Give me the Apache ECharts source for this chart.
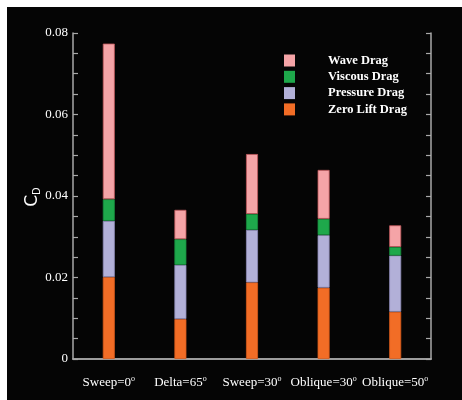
<!DOCTYPE html>
<html>
<head>
<meta charset="utf-8">
<script src="https://cdn.jsdelivr.net/npm/echarts@6/dist/echarts.min.js"></script>
<style>
html,body{margin:0;padding:0;background:#fff;}
#panel{position:absolute;left:7px;top:7px;width:455px;height:393px;background:#050505;}
#chart{position:absolute;left:0;top:0;width:462px;height:400px;}
</style>
</head>
<body>
<div id="panel"></div>
<div id="chart"></div>
<script>
const categories = ['Sweep=0', 'Delta=65', 'Sweep=30', 'Oblique=30', 'Oblique=50'];
const zeroLiftDrag = [0.0201, 0.0098, 0.0188, 0.0175, 0.0116];
const pressureDrag = [0.0138, 0.0133, 0.0129, 0.0129, 0.0138];
const viscousDrag  = [0.0053, 0.0063, 0.0039, 0.0040, 0.0021];
const waveDrag     = [0.0382, 0.0072, 0.0147, 0.0120, 0.0053];
const yTicks = [0, 0.02, 0.04, 0.06, 0.08];
const yAxisTitle = ['C', 'D'];

const serif = '"Liberation Serif", "DejaVu Serif", serif';
const axisColor = '#a8a8a8';

const chart = echarts.init(document.getElementById('chart'), null, {renderer: 'canvas'});

function mk(name, data, color, border) {
  return {
    name: name, type: 'bar', stack: 'cd', data: data, barWidth: 12,
    itemStyle: {color: color, borderColor: border, borderWidth: 0.8},
    emphasis: {disabled: true}
  };
}

chart.setOption({
  backgroundColor: 'transparent',
  animation: false,
  grid: {left: 73, right: 31, top: 33, bottom: 41, containLabel: false},
  graphic: [{
    type: 'group', x: 33, y: 197, rotation: Math.PI / 2, silent: true,
    children: [{
      type: 'text', x: 0, y: 0,
      style: {
        text: '{c|' + yAxisTitle[0] + '}{d|' + yAxisTitle[1] + '}',
        align: 'center', verticalAlign: 'middle',
        rich: {
          c: {fill: '#ffffff', fontFamily: '"DejaVu Sans", sans-serif', fontSize: 17},
          d: {fill: '#ffffff', fontFamily: '"DejaVu Sans", sans-serif', fontSize: 10, verticalAlign: 'bottom', padding: [8, 0, 0, 0]}
        }
      }
    }]
  }],
  legend: {
    data: ['Wave Drag', 'Viscous Drag', 'Pressure Drag', 'Zero Lift Drag'],
    orient: 'vertical', left: 284, top: 54, padding: 0,
    itemWidth: 11, itemHeight: 12, itemGap: 3.3,
    icon: 'rect',
    itemStyle: {borderWidth: 0},
    textStyle: {color: '#ffffff', fontFamily: serif, fontWeight: 'bold', fontSize: 12.5, lineHeight: 12, padding: [0, 0, 0, 28]},
    selectedMode: false
  },
  xAxis: [{
    type: 'category', data: categories, position: 'bottom',
    axisLine: {lineStyle: {color: axisColor, width: 1.5}},
    axisTick: {show: false},
    axisLabel: {
      interval: 0,
      color: '#ffffff', fontFamily: serif, fontSize: 13, margin: 16,
      formatter: function (v) { return v + '{sup|o}'; },
      rich: {sup: {fontSize: 8, verticalAlign: 'top', padding: [0, 0, 8, 0], color: '#ffffff', fontFamily: serif}}
    }
  }, {
    type: 'category', data: categories, position: 'top',
    axisLine: {lineStyle: {color: axisColor, width: 1.5}},
    axisTick: {show: false}, axisLabel: {show: false}
  }],
  yAxis: [{
    type: 'value', min: 0, max: 0.08, interval: 0.02, position: 'left',
    axisLine: {show: true, lineStyle: {color: axisColor, width: 1.5}},
    axisTick: {show: true, inside: true, length: 5, lineStyle: {color: axisColor, width: 1.2}},
    minorTick: {show: true, splitNumber: 4, length: 5, lineStyle: {color: axisColor, width: 1.2}},
    splitLine: {show: false},
    axisLabel: {
      color: '#ffffff', fontFamily: serif, fontSize: 13, margin: 5,
      formatter: function (v) { return v === 0 ? '0' : v.toFixed(2); }
    }
  }, {
    type: 'value', min: 0, max: 0.08, interval: 0.02, position: 'right',
    axisLine: {show: true, lineStyle: {color: axisColor, width: 1.5}},
    axisTick: {show: true, inside: true, length: 5, lineStyle: {color: axisColor, width: 1.2}},
    minorTick: {show: true, splitNumber: 4, length: 5, lineStyle: {color: axisColor, width: 1.2}},
    splitLine: {show: false},
    axisLabel: {show: false}
  }],
  series: [
    mk('Zero Lift Drag', zeroLiftDrag, '#f26d26', '#d85a1a'),
    mk('Pressure Drag', pressureDrag, '#b2b0d8', '#8e8cb8'),
    mk('Viscous Drag', viscousDrag, '#1ea84b', '#178a3c'),
    mk('Wave Drag', waveDrag, '#f5a4a7', '#c0585c')
  ]
});
</script>
</body>
</html>
